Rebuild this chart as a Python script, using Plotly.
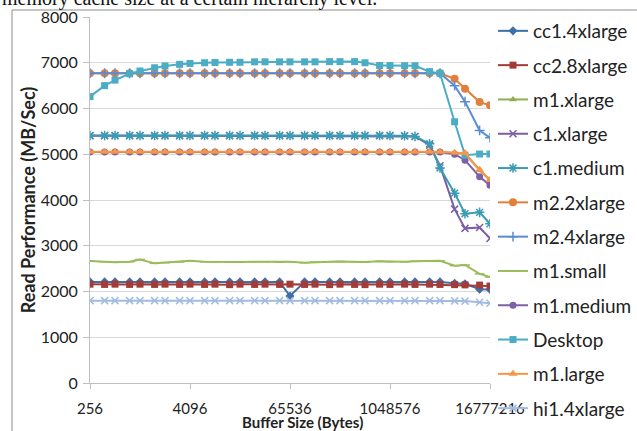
import plotly.graph_objects as go

# Buffer sizes: powers of two and 1.5x powers of two, 256 .. 16777216
buffer_sizes = [256, 384, 512, 768, 1024, 1536, 2048, 3072, 4096, 6144, 8192, 12288,
                16384, 24576, 32768, 49152, 65536, 98304, 131072, 196608, 262144,
                393216, 524288, 786432, 1048576, 1572864, 2097152, 3145728, 4194304,
                6291456, 8388608, 12582912, 16777216]

tick_vals = [256, 4096, 65536, 1048576, 16777216]
tick_text = ["256", "4096", "65536", "1048576", "16777216"]

cc1_4xlarge = [2210] * 16 + [1900] + [2210] * 12 + [2180, 2170, 2050, 2045]
cc2_8xlarge = [2160, 2155, 2160, 2155, 2160, 2155, 2160, 2155, 2160, 2155, 2160, 2150,
               2160, 2155, 2160, 2155, 2160, 2155, 2160, 2150, 2160, 2155, 2150, 2160,
               2155, 2160, 2155, 2160, 2155, 2150, 2145, 2140, 2120]
m1_xlarge = [5050] * 29 + [5030, 5015, 4650, 4430]
c1_xlarge = [5405] * 25 + [5400, 5390, 5200, 4750, 3800, 3380, 3400, 3160]
c1_medium = [5410] * 25 + [5405, 5390, 5230, 4700, 4150, 3700, 3730, 3480]
m2_2xlarge = [6770] * 29 + [6650, 6430, 6140, 6070]
m2_4xlarge = [6770] * 29 + [6500, 6150, 5520, 5360]
m1_small = [2665, 2650, 2640, 2650, 2700, 2615, 2630, 2645, 2670, 2650, 2645, 2640,
            2645, 2650, 2650, 2640, 2650, 2630, 2645, 2650, 2655, 2650, 2645, 2660,
            2650, 2650, 2660, 2670, 2670, 2565, 2580, 2385, 2315]
m1_medium = [5050] * 29 + [5000, 4870, 4510, 4320]
desktop = [6260, 6500, 6620, 6760, 6820, 6890, 6930, 6965, 6985, 7000, 7005, 7010,
           7010, 7020, 7020, 7020, 7020, 7020, 7020, 7025, 7025, 7025, 7000, 6940,
           6940, 6935, 6935, 6805, 6770, 5710, 4980, 5005, 5005]
m1_large = [5055] * 29 + [5035, 5025, 4660, 4440]
hi1_4xlarge = [1800] * 29 + [1795, 1790, 1765, 1742]

series = [
    ("cc1.4xlarge", cc1_4xlarge, "#3D6FA9", "diamond", 7),
    ("cc2.8xlarge", cc2_8xlarge, "#A33B38", "square", 7),
    ("m1.xlarge", m1_xlarge, "#8FB050", "triangle-up", 7),
    ("c1.xlarge", c1_xlarge, "#7B5EA3", "x-thin-open", 7),
    ("c1.medium", c1_medium, "#3A9CB4", "asterisk-open", 8),
    ("m2.2xlarge", m2_2xlarge, "#E27F3B", "circle", 8),
    ("m2.4xlarge", m2_4xlarge, "#5A8CD3", "cross-thin-open", 7),
    ("m1.small", m1_small, "#9BBB59", "line-ew-open", 7),
    ("m1.medium", m1_medium, "#7E60A8", "circle", 7),
    ("Desktop", desktop, "#4BACC6", "square", 7),
    ("m1.large", m1_large, "#F79646", "triangle-up", 8),
    ("hi1.4xlarge", hi1_4xlarge, "#A2BCE0", "x-thin-open", 7),
]

fig = go.Figure()
for i, (name, vals, color, sym, size) in enumerate(series):
    fig.add_trace(go.Scatter(
        x=buffer_sizes, y=vals, name=name, mode="lines+markers",
        legendgroup=f"g{i}",
        line=dict(color=color, width=2),
        marker=dict(symbol=sym, size=size, color=color,
                    line=dict(color=color, width=1.5 if "open" in sym else 0)),
    ))

# plot area: x 90..490, y 17..383
def px_x(p):
    return (p - 90) / 400.0

def px_y(p):
    return (383 - p) / 366.0

fig.add_shape(type="rect", xref="paper", yref="paper",
              x0=px_x(12), x1=px_x(660), y0=px_y(10), y1=px_y(460),
              line=dict(color="#8C8C8C", width=1), fillcolor="rgba(0,0,0,0)", layer="below")

fig.add_annotation(text="memory cache size at a certain hierarchy level.",
                   xref="paper", yref="paper", x=px_x(0), y=px_y(12),
                   xanchor="left", yanchor="bottom", showarrow=False,
                   font=dict(family="Liberation Serif", size=20, color="#111"))

fig.add_annotation(text="<b>Buffer Size (Bytes)</b>",
                   xref="paper", yref="paper", x=px_x(302), y=px_y(422),
                   xanchor="center", yanchor="middle", showarrow=False,
                   font=dict(family="Lato", size=15, color="#222"))

fig.update_layout(
    width=637, height=431,
    margin=dict(l=90, r=147, t=17, b=48, autoexpand=False),
    paper_bgcolor="white", plot_bgcolor="white",
    font=dict(family="Lato", size=14, color="#222"),
    showlegend=True,
    legend=dict(x=px_x(493), y=px_y(12), xanchor="left", yanchor="top",
                font=dict(family="Lato", size=19, color="#222"),
                tracegroupgap=6.6, itemwidth=30, bgcolor="rgba(0,0,0,0)",
                maxheight=1000),
    xaxis=dict(type="log", range=[2.40824, 7.22472],
               tickvals=tick_vals, ticktext=tick_text,
               showgrid=False, zeroline=False,
               showline=True, linecolor="#BFBFBF", linewidth=1,
               ticks="outside", ticklen=5, tickcolor="#BFBFBF",
               ticklabelstandoff=7,
               tickfont=dict(family="Lato", size=15, color="#222")),
    yaxis=dict(range=[0, 8000], dtick=1000,
               showgrid=True, gridcolor="#D9D9D9", gridwidth=1, zeroline=False,
               showline=True, linecolor="#BFBFBF", linewidth=1,
               ticks="outside", ticklen=6, tickcolor="#BFBFBF",
               ticklabelstandoff=2,
               tickfont=dict(family="Lato", size=16, color="#222"),
               title=dict(text="<b>Read Performance (MB/Sec)</b>", standoff=0,
                          font=dict(family="Lato", size=18, color="#222"))),
)

fig.write_html("out.html")
